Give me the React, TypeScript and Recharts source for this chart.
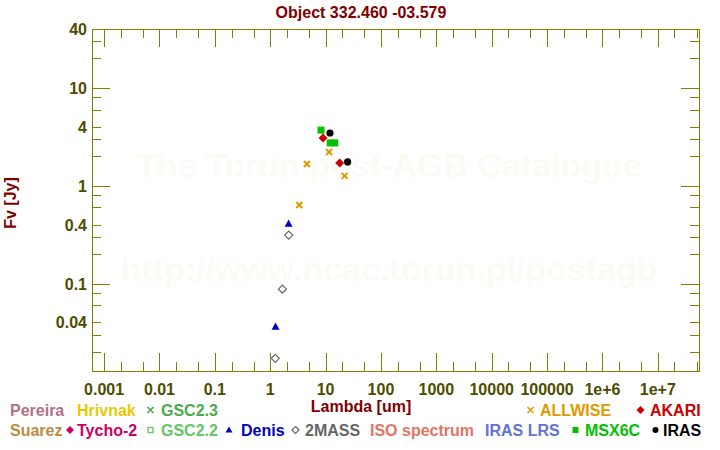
import React from 'react';
import { ScatterChart, Scatter, XAxis, YAxis, ReferenceArea } from 'recharts';

// photometry: wavelength [um] and flux [Jy]
const allwiseLambda = [3.35, 4.6, 11.56, 22.09];
const allwiseFlux = [0.635, 1.67, 2.21, 1.26];
const akariLambda = [9, 18];
const akariFlux = [3.08, 1.71];
const msxLambda = [8.28, 12.13, 14.65];
const msxFlux = [3.7, 2.74, 2.74];
const irasLambda = [12, 25];
const irasFlux = [3.46, 1.75];
const denisLambda = [1.25, 2.15];
const denisFlux = [0.0363, 0.411];
const twomassLambda = [1.235, 1.662, 2.159];
const twomassFlux = [0.0172, 0.0877, 0.313];

const xMajorTicks = [0.001, 0.01, 0.1, 1, 10, 100, 1000, 10000, 100000, 1e6, 1e7];
const xTickLabels = ['0.001', '0.01', '0.1', '1', '10', '100', '1000', '10000', '100000', '1e+6', '1e+7'];
const xMinorTicks = [
  0.002, 0.005, 0.02, 0.05, 0.2, 0.5, 2, 5, 20, 50, 200, 500, 2000, 5000,
  20000, 50000, 200000, 500000, 2e6, 5e6, 2e7, 5e7,
];
const yTicks = [
  0.02, 0.03, 0.04, 0.06, 0.08, 0.1, 0.2, 0.3, 0.4, 0.6, 0.8, 1, 2, 3, 4, 6, 8, 10, 20, 30, 40,
];
const yLongTicks = [0.1, 1, 10];
const yLabelValues = [0.04, 0.1, 0.4, 1, 4, 10, 40];
const yTickLabels = ['0.04', '0.1', '0.4', '1', '4', '10', '40'];

const X_DOMAIN: [number, number] = [6.05e-4, 5.54e7];
const Y_DOMAIN: [number, number] = [0.01277, 40];

const PLOT_TOP = 29;
const PLOT_BOTTOM = 371;
const PLOT_LEFT = 92;
const PLOT_RIGHT = 699;

const FRAME = '#808000';
const TICK_TEXT = '#4d4d00';
const TITLE = '#800000';
const WATERMARK = '#fcfaf4';
const FONT = '"Liberation Sans", Arial, sans-serif';

const C = {
  pereira: '#b07088',
  hrivnak: '#e8c800',
  gsc23: '#4caa4c',
  suarez: '#c08a40',
  tycho: '#cc0066',
  gsc22: '#66c466',
  denis: '#0000c8',
  twomass: '#666666',
  iso: '#e27466',
  irasLrs: '#6272d8',
  msx: '#00c000',
  iras: '#000000',
  allwise: '#e09a00',
  akari: '#cc0000',
};

const toPoints = (xs: number[], ys: number[]) => xs.map((x, i) => ({ x, y: ys[i] }));

const XTick = (props: any) => {
  const { x, payload } = props;
  const v = payload.value;
  const i = xMajorTicks.indexOf(v);
  const len = i >= 0 ? 18 : 9;
  const px = Math.round(x) + 0.5;
  return (
    <g>
      <line x1={px} x2={px} y1={PLOT_BOTTOM} y2={PLOT_BOTTOM - len} stroke={FRAME} />
      <line x1={px} x2={px} y1={PLOT_TOP} y2={PLOT_TOP + len} stroke={FRAME} />
      {i >= 0 && (
        <text x={x} y={395} textAnchor="middle" fill={TICK_TEXT} fontSize={16} fontWeight="bold" fontFamily={FONT}>
          {xTickLabels[i]}
        </text>
      )}
    </g>
  );
};

const YTick = (props: any) => {
  const { y, payload } = props;
  const v = payload.value;
  const len = yLongTicks.includes(v) ? 18 : 9;
  const li = yLabelValues.indexOf(v);
  const py = Math.round(y) + 0.5;
  return (
    <g>
      <line x1={PLOT_LEFT} x2={PLOT_LEFT + len} y1={py} y2={py} stroke={FRAME} />
      <line x1={PLOT_RIGHT} x2={PLOT_RIGHT - len} y1={py} y2={py} stroke={FRAME} />
      {li >= 0 && (
        <text x={87} y={y + 6} textAnchor="end" fill={TICK_TEXT} fontSize={16} fontWeight="bold" fontFamily={FONT}>
          {yTickLabels[li]}
        </text>
      )}
    </g>
  );
};

const cross = (color: string, r: number) => (p: any) => (
  <path
    d={`M${p.cx - r},${p.cy - r}L${p.cx + r},${p.cy + r}M${p.cx - r},${p.cy + r}L${p.cx + r},${p.cy - r}`}
    stroke={color}
    strokeWidth={2}
    fill="none"
  />
);
const diamond = (color: string, r: number, open = false) => (p: any) => (
  <path
    d={`M${p.cx},${p.cy - r}L${p.cx + r},${p.cy}L${p.cx},${p.cy + r}L${p.cx - r},${p.cy}Z`}
    fill={open ? '#fff' : color}
    stroke={color}
    strokeWidth={open ? 1.2 : 0}
  />
);
const square = (color: string, s: number) => (p: any) => (
  <rect x={p.cx - s / 2} y={p.cy - s / 2} width={s} height={s} fill={color} />
);
const circle = (color: string, r: number) => (p: any) => <circle cx={p.cx} cy={p.cy} r={r} fill={color} />;
const triangle = (color: string, r: number) => (p: any) => (
  <path d={`M${p.cx},${p.cy - r}L${p.cx + r},${p.cy + r * 0.8}L${p.cx - r},${p.cy + r * 0.8}Z`} fill={color} />
);

// little legend glyphs
const legendSymbol = (kind: string, color: string, cx: number, cy: number) => {
  switch (kind) {
    case 'cross':
      return <path d={`M${cx - 3},${cy - 3}L${cx + 3},${cy + 3}M${cx - 3},${cy + 3}L${cx + 3},${cy - 3}`} stroke={color} strokeWidth={1.6} />;
    case 'diamond':
      return <path d={`M${cx},${cy - 4}L${cx + 4},${cy}L${cx},${cy + 4}L${cx - 4},${cy}Z`} fill={color} />;
    case 'odiamond':
      return <path d={`M${cx},${cy - 3.5}L${cx + 3.5},${cy}L${cx},${cy + 3.5}L${cx - 3.5},${cy}Z`} fill="none" stroke={color} strokeWidth={1.2} />;
    case 'osquare':
      return <rect x={cx - 2.5} y={cy - 2.5} width={5} height={5} fill="none" stroke={color} strokeWidth={1.3} />;
    case 'square':
      return <rect x={cx - 3} y={cy - 3} width={6} height={6} fill={color} />;
    case 'triangle':
      return <path d={`M${cx},${cy - 3.5}L${cx + 3.5},${cy + 2.5}L${cx - 3.5},${cy + 2.5}Z`} fill={color} />;
    case 'circle':
      return <circle cx={cx} cy={cy} r={3} fill={color} />;
    default:
      return null;
  }
};

const legendRow1 = [
  { label: 'Pereira', color: C.pereira, x: 10 },
  { label: 'Hrivnak', color: C.hrivnak, x: 77 },
  { label: 'GSC2.3', color: C.gsc23, x: 161, sym: 'cross', sx: 150.5 },
  { label: 'ALLWISE', color: C.allwise, x: 540, sym: 'cross', sx: 530.5 },
  { label: 'AKARI', color: C.akari, x: 650, sym: 'diamond', sx: 640.5 },
];
const legendRow2 = [
  { label: 'Suarez', color: C.suarez, x: 10 },
  { label: 'Tycho-2', color: C.tycho, x: 77, sym: 'diamond', sx: 70 },
  { label: 'GSC2.2', color: C.gsc22, x: 161, sym: 'osquare', sx: 150.5 },
  { label: 'Denis', color: C.denis, x: 241, sym: 'triangle', sx: 229 },
  { label: '2MASS', color: C.twomass, x: 305, sym: 'odiamond', sx: 295.5 },
  { label: 'ISO spectrum', color: C.iso, x: 370 },
  { label: 'IRAS LRS', color: C.irasLrs, x: 485 },
  { label: 'MSX6C', color: C.msx, x: 585, sym: 'square', sx: 575.5 },
  { label: 'IRAS', color: C.iras, x: 663, sym: 'circle', sx: 655.5 },
];

export default function App() {
  const textProps = { fontFamily: FONT, fontWeight: 'bold' as const, fontSize: 16 };
  return (
    <div style={{ position: 'absolute', left: 0, top: 0, width: 720, height: 450, background: '#fff' }}>
      <svg width={720} height={450} style={{ position: 'absolute', left: 0, top: 0 }}>
        <text x={389} y={177} textAnchor="middle" fill={WATERMARK} fontFamily={FONT} fontWeight="bold" fontSize={34}>
          The Torun post-AGB Catalogue
        </text>
        <text x={389} y={281} textAnchor="middle" fill={WATERMARK} fontFamily={FONT} fontWeight="bold" fontSize={34}>
          http://www.ncac.torun.pl/postagb
        </text>
        <text x={361} y={18} textAnchor="middle" fill={TITLE} {...textProps}>
          Object 332.460 -03.579
        </text>
        <text x={361} y={412} textAnchor="middle" fill={TITLE} {...textProps}>
          Lambda [um]
        </text>
        <text x={16} y={203} textAnchor="middle" fill={TITLE} {...textProps} transform="rotate(-90 16 203)">
          Fv [Jy]
        </text>
        {legendRow1.map((d) => (
          <g key={d.label}>
            {d.sym && legendSymbol(d.sym, d.color, d.sx as number, 410)}
            <text x={d.x} y={416} fill={d.color} {...textProps}>
              {d.label}
            </text>
          </g>
        ))}
        {legendRow2.map((d) => (
          <g key={d.label}>
            {d.sym && legendSymbol(d.sym, d.color, d.sx as number, 430)}
            <text x={d.x} y={436} fill={d.color} {...textProps}>
              {d.label}
            </text>
          </g>
        ))}
      </svg>
      <div style={{ position: 'absolute', left: 0, top: 0 }}>
        <ScatterChart width={720} height={450} margin={{ top: PLOT_TOP, right: 720 - PLOT_RIGHT, bottom: 49, left: 0 }}>
          <XAxis
            type="number"
            dataKey="x"
            scale="log"
            domain={X_DOMAIN}
            allowDataOverflow
            ticks={[...xMajorTicks, ...xMinorTicks]}
            interval={0}
            tick={<XTick />}
            tickLine={false}
            axisLine={false}
            height={30}
          />
          <YAxis
            type="number"
            dataKey="y"
            scale="log"
            domain={Y_DOMAIN}
            allowDataOverflow
            ticks={yTicks}
            interval={0}
            tick={<YTick />}
            tickLine={false}
            axisLine={false}
            width={PLOT_LEFT}
          />
          <ReferenceArea
            x1={X_DOMAIN[0]}
            x2={X_DOMAIN[1]}
            y1={Y_DOMAIN[0]}
            y2={Y_DOMAIN[1]}
            fill="none"
            stroke={FRAME}
            shapeRendering="crispEdges"
          />
          <Scatter data={toPoints(twomassLambda, twomassFlux)} shape={diamond(C.twomass, 4, true)} isAnimationActive={false} />
          <Scatter data={toPoints(denisLambda, denisFlux)} shape={triangle(C.denis, 4)} isAnimationActive={false} />
          <Scatter data={toPoints(allwiseLambda, allwiseFlux)} shape={cross(C.allwise, 3)} isAnimationActive={false} />
          <Scatter data={toPoints(msxLambda, msxFlux)} shape={square(C.msx, 7)} isAnimationActive={false} />
          <Scatter data={toPoints(akariLambda, akariFlux)} shape={diamond(C.akari, 4.5)} isAnimationActive={false} />
          <Scatter data={toPoints(irasLambda, irasFlux)} shape={circle(C.iras, 3.6)} isAnimationActive={false} />
        </ScatterChart>
      </div>
    </div>
  );
}
